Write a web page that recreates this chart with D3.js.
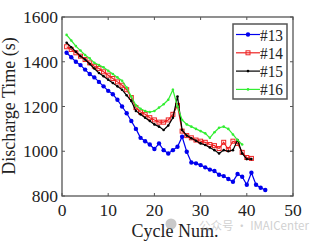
<!DOCTYPE html>
<html>
<head>
<meta charset="utf-8">
<script src="https://cdn.jsdelivr.net/npm/d3@7"></script>
<style>
  body { margin: 0; background: #fff; }
  text { font-family: "Liberation Serif", "DejaVu Serif", serif; }
</style>
</head>
<body>
<script>
// data
const xTicks = [0, 10, 20, 30, 40, 50]
const yTicks = [800, 1000, 1200, 1400, 1600]

const s13 = [1440,1420,1400,1385,1365,1345,1330,1310,1290,1270,1255,1230,1200,1170,1135,
             1100,1060,1045,1030,1010,1035,1005,990,1005,1020,1065,998,950,946,938,
             928,918,912,895,889,876,864,898,886,850,904,850,837,827]
const s14 = [1467,1455,1440,1425,1410,1395,1380,1370,1355,1340,1325,1310,1295,1275,1240,
             1195,1175,1165,1150,1140,1130,1130,1140,1165,1205,1090,1070,1060,1050,1045,
             1040,1030,1025,1012,1040,1008,1045,1035,995,972,968]
const s15 = [1485,1465,1445,1425,1410,1390,1370,1350,1335,1320,1305,1290,1275,1250,1225,
             1180,1165,1150,1135,1120,1110,1095,1115,1150,1245,1095,1070,1058,1047,1035,
             1028,1017,1005,990,1005,1000,1005,1050,990,965,965]
const s16 = [1520,1495,1470,1450,1430,1415,1395,1385,1375,1360,1345,1330,1315,1285,1245,
             1205,1190,1180,1175,1180,1195,1210,1230,1275,1200,1140,1120,1110,1100,1090,
             1080,1060,1085,1105,1110,1100,1075,1050,1030]

const series = [
  { name: "#13", values: s13, color: "#0000ee", marker: "dot" },
  { name: "#14", values: s14, color: "#ee2222", marker: "square" },
  { name: "#15", values: s15, color: "#000000", marker: "small" },
  { name: "#16", values: s16, color: "#33ee33", marker: "small" }
]

const W = 324, H = 243
const plot = { left: 62, right: 293, top: 17, bottom: 196 }
const axisColor = "#555"

const svg = d3.select("body").append("svg")
    .attr("width", W)
    .attr("height", H)

const x = d3.scaleLinear().domain([0, 50]).range([plot.left, plot.right])
const y = d3.scaleLinear().domain([800, 1600]).range([plot.bottom, plot.top])

// box
svg.append("rect")
    .attr("x", plot.left).attr("y", plot.top)
    .attr("width", plot.right - plot.left).attr("height", plot.bottom - plot.top)
    .attr("fill", "none").attr("stroke", axisColor).attr("stroke-width", 1.3)

// ticks (inward, all four sides)
const tl = 3
xTicks.forEach(t => {
    svg.append("line").attr("x1", x(t)).attr("x2", x(t)).attr("y1", plot.bottom).attr("y2", plot.bottom - tl)
        .attr("stroke", axisColor).attr("stroke-width", 1)
    svg.append("line").attr("x1", x(t)).attr("x2", x(t)).attr("y1", plot.top).attr("y2", plot.top + tl)
        .attr("stroke", axisColor).attr("stroke-width", 1)
    svg.append("text").attr("x", x(t)).attr("y", 216)
        .attr("text-anchor", "middle").attr("font-size", 17.5).attr("fill", "#222")
        .text(t)
})
yTicks.forEach(t => {
    svg.append("line").attr("x1", plot.left).attr("x2", plot.left + tl).attr("y1", y(t)).attr("y2", y(t))
        .attr("stroke", axisColor).attr("stroke-width", 1)
    svg.append("line").attr("x1", plot.right).attr("x2", plot.right - tl).attr("y1", y(t)).attr("y2", y(t))
        .attr("stroke", axisColor).attr("stroke-width", 1)
    svg.append("text").attr("x", 58).attr("y", y(t) + 6)
        .attr("text-anchor", "end").attr("font-size", 17.5).attr("fill", "#222")
        .text(t)
})

// axis titles
svg.append("text").attr("x", 175).attr("y", 237)
    .attr("text-anchor", "middle").attr("font-size", 18).attr("fill", "#222")
    .text("Cycle Num.")
svg.append("text")
    .attr("transform", "translate(15,106) rotate(-90)")
    .attr("text-anchor", "middle").attr("font-size", 18).attr("fill", "#222")
    .text("Discharge Time (s)")

// lines
const line = d3.line()
    .x((d, i) => x(i + 1))
    .y(d => y(d))

function drawMarker(g, m, color, cx, cy) {
    if (m === "dot") {
        g.append("circle").attr("cx", cx).attr("cy", cy).attr("r", 2.2).attr("fill", color)
    } else if (m === "square") {
        g.append("rect").attr("x", cx - 2).attr("y", cy - 2).attr("width", 4).attr("height", 4)
            .attr("fill", "none").attr("stroke", color).attr("stroke-width", 1)
    } else {
        g.append("circle").attr("cx", cx).attr("cy", cy).attr("r", 1.3).attr("fill", color)
    }
}

series.forEach(s => {
    svg.append("path")
        .attr("d", line(s.values))
        .attr("fill", "none").attr("stroke", s.color).attr("stroke-width", 1.2)
    const g = svg.append("g")
    s.values.forEach((v, i) => drawMarker(g, s.marker, s.color, x(i + 1), y(v)))
})

// legend
const lg = svg.append("g")
lg.append("rect").attr("x", 233).attr("y", 24).attr("width", 54).attr("height", 75)
    .attr("fill", "#fff").attr("stroke", axisColor).attr("stroke-width", 1.5)
series.forEach((s, i) => {
    const ly = 34.5 + i * 18.3
    lg.append("line").attr("x1", 236).attr("x2", 260).attr("y1", ly).attr("y2", ly)
        .attr("stroke", s.color).attr("stroke-width", 1.2)
    drawMarker(lg, s.marker, s.color, 248, ly)
    lg.append("text").attr("x", 260).attr("y", ly + 6)
        .attr("font-size", 17).attr("fill", "#222")
        .attr("textLength", 23).attr("lengthAdjust", "spacingAndGlyphs")
        .text(s.name)
})

// watermark
const wm = svg.append("g").attr("opacity", 0.45)
wm.append("circle").attr("cx", 171).attr("cy", 224).attr("r", 5.5).attr("fill", "#888")
wm.append("text").attr("x", 199).attr("y", 230)
    .style("font-family", "'Noto Sans CJK SC', 'Noto Sans', sans-serif")
    .attr("font-size", 11.5).attr("fill", "#999")
    .text("公众号 · IMAICenter")
</script>
</body>
</html>
